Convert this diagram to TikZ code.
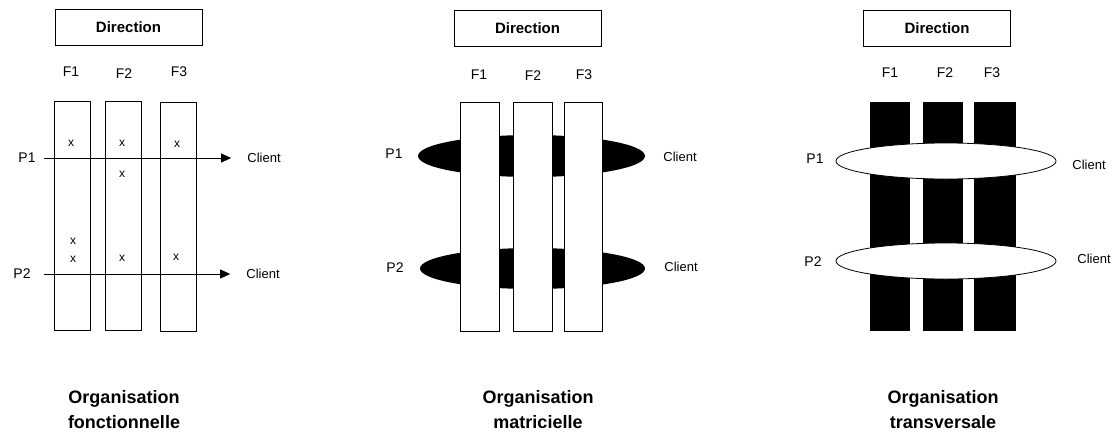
\documentclass[tikz,border=0pt]{standalone}
\usepackage{fontspec}
\setmainfont{Liberation Sans}
\usetikzlibrary{arrows.meta,shapes.geometric}
\tikzset{
    %Define standard arrow tip
    >={Triangle[length=10pt,width=9pt]},
    %Define style for boxes
    boite/.style={
           rectangle,
           draw=black, line width=0.8pt,
           minimum width=147pt,
           minimum height=36pt,
           font=\bfseries\fontsize{15}{17}\selectfont},
    colonne/.style={
           rectangle,
           draw=black, fill=white, line width=0.8pt,
           minimum height=229pt,
           inner sep=0pt},
    colnoire/.style={
           rectangle,
           fill=black,
           minimum height=229pt,
           inner sep=0pt},
    ovale/.style={
           ellipse,
           inner sep=0pt},
    % Define text styles
    etiq/.style={font=\fontsize{14}{16}\selectfont, inner sep=0pt},
    client/.style={font=\fontsize{13}{15}\selectfont, inner sep=0pt},
    croix/.style={font=\fontsize{12}{14}\selectfont, inner sep=0pt},
    titre/.style={font=\bfseries\fontsize{18}{25}\selectfont, align=center},
    % Define arrow style
    fleche/.style={
           ->,
           line width=0.8pt,
           shorten <=8pt,
           shorten >=16pt}
}

\begin{document}
\begin{tikzpicture}[x=1pt,y=-1pt]
\useasboundingbox (0,0) rectangle (1115,432);

% organisation fonctionnelle
\node[boite] (d1) at (128.5,27.5) {Direction};
\node[etiq] (f1a) at (71,72) {F1};
\node[etiq] (f2a) at (124,74) {F2};
\node[etiq] (f3a) at (179,72) {F3};
\node[colonne, minimum width=36pt] (k1a) at (72,215.5) {};
\node[colonne, minimum width=36pt] (k2a) at (123,215.5) {};
\node[colonne, minimum width=36pt] (k3a) at (178,217) {};
\foreach \pos [count=\i] in {(71,143),(122,143),(177,144),(122,174),(73,241),(73,259),(122,258),(176,257)}
  \node[croix] (x\i) at \pos {x};
\node[etiq] (p1a) at (27,158) {P1};
\node[client] (c1a) at (264,158) {Client};
\node[etiq] (p2a) at (22,274) {P2};
\node[client] (c2a) at (263,274) {Client};
\draw[fleche] (p1a) -- (c1a);
\draw[fleche, shorten <=13pt] (p2a) -- (c2a);
\node[titre] (t1) at (124,409.5) {Organisation\\fonctionnelle};

% organisation matricielle
\node[boite] (d2) at (527.5,28) {Direction};
\node[etiq] (f1b) at (479,75) {F1};
\node[etiq] (f2b) at (533,76) {F2};
\node[etiq] (f3b) at (584,75) {F3};
\node[ovale, fill=black, minimum width=227pt, minimum height=42pt] (e1b) at (531.5,156) {};
\node[ovale, fill=black, minimum width=225pt, minimum height=41pt] (e2b) at (532.5,268.5) {};
\node[colonne, minimum width=39pt] (k1b) at (479.5,217) {};
\node[colonne, minimum width=39pt] (k2b) at (532.5,217) {};
\node[colonne, minimum width=38pt] (k3b) at (583,217) {};
\node[etiq] (p1b) at (394,154) {P1};
\node[client] (c1b) at (680,157) {Client};
\node[etiq] (p2b) at (395,268) {P2};
\node[client] (c2b) at (681,267) {Client};
\node[titre] (t2) at (538,409.5) {Organisation\\matricielle};

% organisation transversale
\node[boite] (d3) at (937,28) {Direction};
\node[etiq] (f1c) at (890,73) {F1};
\node[etiq] (f2c) at (945,73) {F2};
\node[etiq] (f3c) at (992,73) {F3};
\node[colnoire, minimum width=40pt] (k1c) at (890,216.5) {};
\node[colnoire, minimum width=40pt] (k2c) at (943,216.5) {};
\node[colnoire, minimum width=42pt] (k3c) at (995,216.5) {};
\node[ovale, draw=black, fill=white, line width=0.8pt, minimum width=220pt, minimum height=36pt] (e1c) at (946,161) {};
\node[ovale, draw=black, fill=white, line width=0.8pt, minimum width=220pt, minimum height=36pt] (e2c) at (946,261) {};
\node[etiq] (p1c) at (815,159) {P1};
\node[client] (c1c) at (1089,165) {Client};
\node[etiq] (p2c) at (813,262) {P2};
\node[client] (c2c) at (1094,259) {Client};
\node[titre] (t3) at (943,409.5) {Organisation\\transversale};
\end{tikzpicture}
\end{document}
